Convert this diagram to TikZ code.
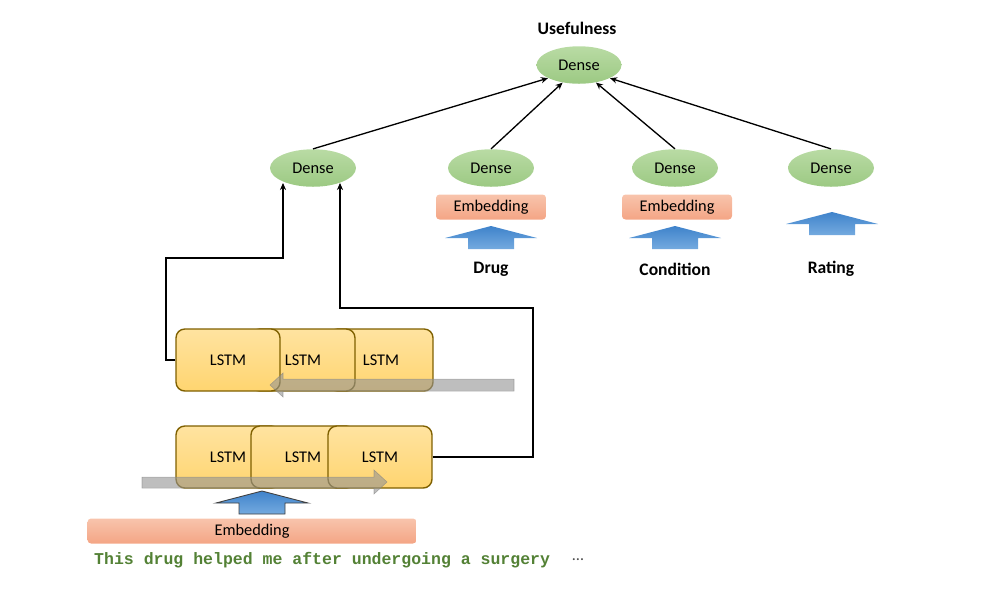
\documentclass[tikz,border=0pt]{standalone}
\usepackage{fontspec}
\setmainfont{Carlito}
\newfontfamily\codefont{Liberation Mono}
\usetikzlibrary{shapes.geometric,arrows.meta,positioning}

\definecolor{densetop}{HTML}{B9DBA4}
\definecolor{densebot}{HTML}{9CC983}
\definecolor{embtop}{HTML}{F8C4AC}
\definecolor{embbot}{HTML}{F4A585}
\definecolor{lstmtop}{HTML}{FFE3A0}
\definecolor{lstmbot}{HTML}{FFD570}
\definecolor{lstmedge}{HTML}{7F6000}
\definecolor{bluetop}{HTML}{3F83CB}
\definecolor{bluebot}{HTML}{74AADF}
\definecolor{codegreen}{HTML}{538135}

\tikzset{
  dense/.style={ellipse, top color=densetop, bottom color=densebot,
    minimum width=1.72cm, minimum height=0.75cm, inner sep=0pt},
  embed/.style={rectangle, rounded corners=2pt, top color=embtop, bottom color=embbot,
    minimum width=2.2cm, minimum height=0.5cm, inner sep=0pt},
  lstm/.style={rectangle, rounded corners=5pt, draw=lstmedge, line width=0.8pt,
    top color=lstmtop, bottom color=lstmbot, minimum width=2.08cm, minimum height=1.24cm},
  inlabel/.style={font=\bfseries},
  conn/.style={-{Stealth[length=4pt,width=3.5pt]}, line width=0.75pt},
  flow/.style={fill=gray!85, draw=gray, line width=0.3pt, opacity=0.6},
  inarrow/.style={top color=bluetop, bottom color=bluebot},
}

% block arrow pointing up, tip at (#1,#2)
\newcommand\inputarrow[3][]{%
  \path[inarrow,#1] (#2,#3) -- (#2+46,#3+12) -- (#2+23,#3+12) -- (#2+23,#3+23)
    -- (#2-23,#3+23) -- (#2-23,#3+12) -- (#2-46,#3+12) -- cycle;}

\begin{document}
\begin{tikzpicture}[x=0.02cm, y=-0.02cm, font=\fontsize{9.3}{11}\selectfont]
    \useasboundingbox (0,0) rectangle (1000,600);

    % output
    \node [inlabel] (useful) at (577,28) {Usefulness};
    \node [dense, minimum width=1.7cm] (top) at (579,65) {Dense};

    % side inputs
    \node [dense] (dl) at (313,168) {Dense};
    \node [dense] (dd) at (491,168) {Dense};
    \node [dense] (dc) at (675,168) {Dense};
    \node [dense] (dr) at (831,168) {Dense};

    \node [embed] (ed) at (491,207) {Embedding};
    \node [embed] (ec) at (677,207) {Embedding};

    \inputarrow{491}{226}
    \inputarrow{675}{226}
    \inputarrow{832}{212}

    \node [inlabel] (drug) at (491,269) {Drug};
    \node [inlabel] (cond) at (675,269) {Condition};
    \node [inlabel] (rate) at (831,269) {Rating};

    \draw [conn] (dl.north) -- (top.-157);
    \draw [conn] (dd.north) -- (top.-133);
    \draw [conn] (dc.north) -- (top.-46);
    \draw [conn] (dr.north) -- (top.-23);

    % backward LSTM
    \node [lstm] (u3) at (381,360) {LSTM};
    \node [lstm] (u2) at (303,360) {LSTM};
    \node [lstm] (u1) at (228,360) {LSTM};

    % forward LSTM
    \node [lstm] (l1) at (228,457) {LSTM};
    \node [lstm] (l2) at (303,457) {LSTM};
    \node [lstm] (l3) at (380,457) {LSTM};

    % direction of each pass
    \path [flow] (514,379) -- (283,379) -- (283,373) -- (270,385) -- (283,397)
        -- (283,391) -- (514,391) -- cycle;
    \path [flow] (142,477) -- (374,477) -- (374,470) -- (387,482) -- (374,494)
        -- (374,488) -- (142,488) -- cycle;

    % LSTM outputs to the dense layer
    \coordinate (bw1) at (166,258);
    \coordinate (bw2) at (283,258);
    \coordinate (bw3) at (283,183);
    \draw [conn, line width=0.6pt] (u1.west) -| (bw1) -- (bw2) -- (bw3);

    \coordinate (fw1) at (533,308);
    \coordinate (fw2) at (340,308);
    \coordinate (fw3) at (340,183);
    \draw [conn, line width=0.6pt] (l3.east) -| (fw1) -- (fw2) -- (fw3);

    % review text
    \inputarrow[draw=black!75, line width=0.5pt]{262}{491}
    \node [embed, minimum width=6.58cm] (e0) at (252,531) {Embedding};
    \node [anchor=west, text=codegreen, font=\codefont\bfseries\fontsize{9.4}{11}\selectfont]
        (review) at (88,560) {This drug helped me after undergoing a surgery};
    \node [text=black!70] (dots) at (578,560) {\dots};
\end{tikzpicture}
\end{document}
